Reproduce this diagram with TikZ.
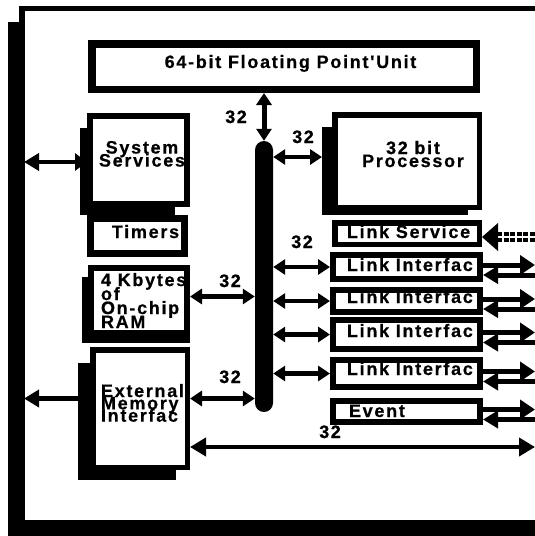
\documentclass[tikz,border=0pt]{standalone}
\usepackage{fontspec}
\setmainfont{Liberation Sans}
\newfontfamily\lsf{Liberation Sans}[LetterSpace=9.5, FakeBold=0.6]
\usetikzlibrary{arrows.meta}
\newcommand\txtfont[1]{\lsf\bfseries\fontsize{18}{#1}\selectfont\lineskiplimit=-50pt\relax}
\tikzset{
  txt/.style={font=\txtfont{13}, inner sep=0pt, outer sep=0pt},
  box/.style={draw=black, fill=white, inner sep=0pt},
  arr/.style={line width=4.5pt, {Triangle[length=12pt,width=15pt]}-{Triangle[length=12pt,width=15pt]}},
  sidearr/.style={line width=4.5pt, {Triangle[length=15pt,width=17pt]}-{Triangle[length=12pt,width=17pt]}},
  longarr/.style={line width=4.5pt, {Triangle[length=16pt,width=18pt]}-{Triangle[length=16pt,width=18pt]}},
  rarr/.style={line width=5pt, -{Triangle[length=15pt,width=19pt]}},
  larr/.style={line width=5pt, -{Triangle[length=15pt,width=17pt]}},
}
% \bx[line width]{name}{x1}{y1}{x2}{y2}  (outer edges)
\newcommand\bx[6][6]{\node[box, line width=#1pt, minimum width={#5-#3-#1}, minimum height={#6-#4-#1}] (#2) at ({(#3+#5)/2},{(#4+#6)/2}) {};}
\begin{document}
\begin{tikzpicture}[x=1pt, y=-1pt]
\useasboundingbox[fill=white] (0,0) rectangle (535,536);
% frame
\fill (19,6) rectangle (535,11);
\fill (19,6) rectangle (25,24);
\fill (8,22) rectangle (25,536);
\fill (8,520) rectangle (535,536);
\coordinate (frame) at (24,0);
\coordinate (edge) at (535,0);
% shadows
\fill (80,128) rectangle (92,215);
\fill (80,205) rectangle (175,215);
\fill (322,127) rectangle (335,215);
\fill (322,203) rectangle (468,215);
\fill (82,277) rectangle (92,343);
\fill (82,328) rectangle (190,343);
\fill (78,363) rectangle (92,480);
\fill (78,463) rectangle (176,480);
% boxes
\bx[7.5]{fpu}{88}{40}{480}{93}
\bx[6]{sys}{87}{113}{190}{207}
\bx[7]{tim}{87}{215}{188}{257}
\bx[5.5]{proc}{332}{112}{482}{210}
\bx[5.5]{ls}{332}{220}{482}{247}
\bx[6]{li1}{330}{252}{483}{282}
\bx[6]{li2}{330}{287}{483}{315}
\bx[6]{li3}{330}{317}{483}{352}
\bx[6]{li4}{330}{357}{483}{390}
\bx[6]{ev}{330}{398}{483}{425}
\bx[6]{ram}{88}{265}{190}{336}
\bx[5.5]{ext}{90}{347}{190}{470}
% bus
\node[fill=black, rounded corners=9pt, minimum width=18pt, minimum height=271pt, inner sep=0pt] (bus) at (264,276.5) {};
% texts
\node[txt, anchor=base] (tfpu) at (290.5,68) {64-bit Floating Point'Unit};
\node[txt, align=center, anchor=north] (tsys) at (142,141) {System\\Services};
\node[txt, anchor=base] (ttim) at (145.5,238) {Timers};
\node[txt, align=center, anchor=north] (tproc) at (413,141) {32 bit\\Processor};
\node[txt, anchor=base west] (tls) at (347,238) {Link Service};
\node[txt, anchor=base west] (tli1) at (347,271) {Link Interfac};
\node[txt, anchor=base west] (tli2) at (347,303) {Link Interfac};
\node[txt, anchor=base west] (tli3) at (347,337) {Link Interfac};
\node[txt, anchor=base west] (tli4) at (347,375) {Link Interfac};
\node[txt, anchor=base west] (tev) at (349,417) {Event};
\node[txt, font=\txtfont{14}, align=left, anchor=north west] (tram) at (101,273) {4 Kbytes\\of\\On-chip\\RAM};
\node[txt, font=\txtfont{12.3}, align=left, anchor=north west] (text) at (101,384) {External\\Memory\\Interfac};
% labels
\node[txt, anchor=base] (l1) at (236,123) {3\kern1.5pt 2};
\node[txt, anchor=base] (l2) at (303,143) {3\kern1.5pt 2};
\node[txt, anchor=base] (l3) at (302,248) {3\kern1.5pt 2};
\node[txt, anchor=base] (l4) at (230,287) {3\kern1.5pt 2};
\node[txt, anchor=base] (l5) at (230,383) {3\kern1.5pt 2};
\node[txt, anchor=base] (l6) at (330,438) {3\kern1.5pt 2};
% connectors
\draw[arr, line width=5pt] (fpu.south -| bus.north) -- (bus.north);
\draw[arr] ([yshift=4pt]proc.west -| bus.east) -- ([xshift=-10pt,yshift=4pt]proc.west);
\foreach \n in {li1,li2,li3,li4} {\draw[arr] (bus.east |- \n.west) -- (\n.west);}
\draw[arr] ([yshift=4pt]ram.east) -- ([yshift=4pt]ram.east -| bus.west);
\draw[arr] ([yshift=10pt]ext.east) -- ([yshift=10pt]ext.east -| bus.west);
\draw[longarr] ([yshift=-38.5pt]ext.east) -- ([yshift=-38.5pt]ext.east -| edge);
\draw[sidearr] ([yshift=-2pt]sys.west -| frame) -- ([yshift=-2pt]sys.west);
\draw[sidearr] ([yshift=10pt]ext.west -| frame) -- ([yshift=10pt]ext.west);
\foreach \n in {li1,li2,li3,li4,ev} {
  \draw[rarr] ([yshift=2pt]\n.east) -- ([yshift=2pt]\n.east -| edge);
  \draw[larr] ([yshift=-8pt]\n.east -| edge) -- ([yshift=-8pt]\n.east);
}
% link service input (hatched)
\fill ([yshift=-3.5pt]ls.east) -- ++(16,-14) -- ++(0,28) -- cycle;
\draw[line width=3.5pt, dash pattern=on 5pt off 1.5pt] ([xshift=15pt,yshift=-0.5pt]ls.east) -- ([yshift=-0.5pt]ls.east -| edge);
\draw[line width=3.5pt, dash pattern=on 5pt off 1.5pt] ([xshift=15pt,yshift=-6.5pt]ls.east) -- ([yshift=-6.5pt]ls.east -| edge);
\end{tikzpicture}
\end{document}
